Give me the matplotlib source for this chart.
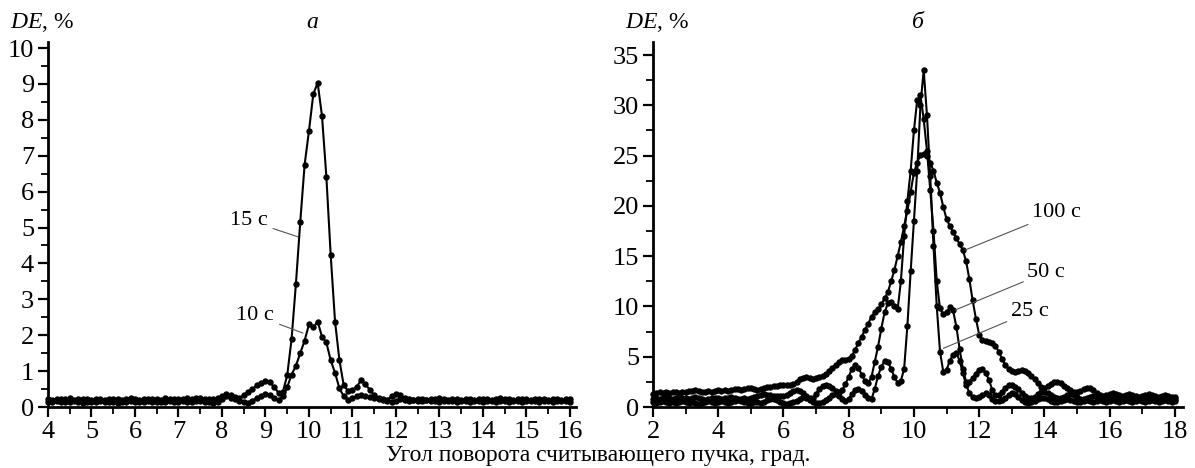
import numpy as np
import matplotlib.pyplot as plt
from matplotlib.ticker import MultipleLocator

plt.rcParams['font.family'] = ['Liberation Serif', 'DejaVu Serif']
plt.rcParams['mathtext.fontset'] = 'custom'
plt.rcParams['mathtext.it'] = 'Liberation Serif:italic'
plt.rcParams['mathtext.rm'] = 'Liberation Serif'

# panel a: angle grid 4..16 deg, step 0.1
angle_a = np.round(np.arange(4.0, 16.05, 0.1), 1)
de_15 = [
    0.22, 0.20, 0.23, 0.21, 0.22, 0.24, 0.20, 0.22, 0.21, 0.23,
    0.20, 0.22, 0.21, 0.20, 0.23, 0.21, 0.22, 0.20, 0.21, 0.25,
    0.22, 0.20, 0.21, 0.23, 0.21, 0.22, 0.20, 0.24, 0.22, 0.21,
    0.23, 0.22, 0.24, 0.21, 0.26, 0.25, 0.22, 0.21, 0.23, 0.25,
    0.30, 0.35, 0.33, 0.28, 0.25, 0.33, 0.42, 0.50, 0.60, 0.68,
    0.72, 0.70, 0.55, 0.40, 0.42, 0.88, 1.89, 3.43, 5.16, 6.75,
    7.69, 8.72, 9.03, 8.11, 6.42, 4.23, 2.38, 1.31, 0.60, 0.45,
    0.47, 0.57, 0.75, 0.63, 0.48, 0.33, 0.26, 0.22, 0.20, 0.30,
    0.37, 0.33, 0.25, 0.22, 0.20, 0.21, 0.23, 0.20, 0.22, 0.21,
    0.24, 0.22, 0.20, 0.21, 0.23, 0.20, 0.22, 0.21, 0.20, 0.22,
    0.23, 0.21, 0.20, 0.22, 0.24, 0.21, 0.22, 0.20, 0.21, 0.23,
    0.22, 0.20, 0.21, 0.23, 0.22, 0.20, 0.21, 0.22, 0.20, 0.21,
    0.22,
]
de_10 = [
    0.15, 0.13, 0.16, 0.14, 0.15, 0.13, 0.16, 0.15, 0.12, 0.14,
    0.15, 0.14, 0.16, 0.13, 0.15, 0.14, 0.12, 0.15, 0.14, 0.17,
    0.15, 0.13, 0.14, 0.16, 0.15, 0.13, 0.14, 0.15, 0.16, 0.14,
    0.15, 0.16, 0.14, 0.15, 0.18, 0.17, 0.15, 0.14, 0.12, 0.15,
    0.22, 0.30, 0.26, 0.22, 0.18, 0.15, 0.12, 0.18, 0.25, 0.32,
    0.35, 0.33, 0.25, 0.20, 0.30, 0.55, 0.90, 1.15, 1.50, 1.85,
    2.30, 2.22, 2.38, 1.96, 1.80, 1.30, 0.95, 0.52, 0.30, 0.20,
    0.25, 0.30, 0.33, 0.30, 0.28, 0.25, 0.22, 0.20, 0.18, 0.15,
    0.18, 0.22, 0.20, 0.18, 0.19, 0.17, 0.18, 0.20, 0.18, 0.17,
    0.15, 0.17, 0.16, 0.18, 0.15, 0.16, 0.17, 0.15, 0.18, 0.16,
    0.15, 0.17, 0.16, 0.15, 0.18, 0.16, 0.15, 0.17, 0.16, 0.15,
    0.17, 0.16, 0.18, 0.15, 0.16, 0.17, 0.15, 0.16, 0.18, 0.16,
    0.15,
]

# panel b: angle grid 2..18 deg, step 0.1
angle_b = np.round(np.arange(2.0, 18.05, 0.1), 1)
de_100 = [
    1.3, 1.4, 1.5, 1.4, 1.5, 1.4, 1.5, 1.5, 1.4, 1.5,
    1.5, 1.6, 1.6, 1.7, 1.6, 1.5, 1.5, 1.6, 1.5, 1.6,
    1.7, 1.6, 1.7, 1.6, 1.7, 1.8, 1.8, 1.7, 1.8, 1.9,
    1.9, 1.8, 1.7, 1.8, 1.9, 2.0, 2.0, 2.1, 2.1, 2.2,
    2.2, 2.2, 2.2, 2.3, 2.5, 2.8, 2.9, 3.0, 2.9, 2.8,
    2.9, 3.0, 3.1, 3.3, 3.6, 3.9, 4.2, 4.5, 4.7, 4.7,
    4.8, 5.1, 5.7, 6.4, 7.0, 7.7, 8.3, 9.0, 9.4, 9.7,
    10.2, 10.8, 11.4, 12.5, 13.6, 15.0, 16.4, 18.0, 19.5, 21.4,
    23.3, 24.3, 25.1, 25.2, 25.0, 24.3, 23.5, 22.3, 21.3, 19.9,
    18.7, 18.0, 17.4, 16.8, 16.2, 15.6, 14.5, 12.7, 10.6, 8.8,
    7.2, 6.7, 6.6, 6.5, 6.4, 6.1, 5.5, 4.8, 4.2, 3.8,
    3.6, 3.5, 3.6, 3.7, 3.6, 3.4, 3.1, 2.8, 2.4, 2.0,
    1.9, 2.1, 2.3, 2.5, 2.5, 2.4, 2.1, 1.9, 1.7, 1.5,
    1.5, 1.6, 1.8, 1.9, 1.9, 1.7, 1.4, 1.2, 1.1, 1.2,
    1.3, 1.4, 1.3, 1.2, 1.1, 1.2, 1.3, 1.2, 1.1, 1.0,
    1.1, 1.2, 1.3, 1.2, 1.1, 1.0, 1.1, 1.2, 1.1, 1.0,
    1.0,
]
de_50 = [
    0.8, 0.9, 0.8, 0.9, 1.0, 0.9, 0.8, 0.9, 0.8, 0.9,
    0.9, 0.8, 0.9, 1.0, 0.9, 0.8, 0.7, 0.8, 0.9, 0.9,
    0.9, 0.8, 0.9, 0.9, 1.0, 0.9, 0.8, 0.8, 0.9, 0.8,
    0.9, 1.0, 1.1, 1.2, 1.3, 1.2, 1.2, 1.1, 1.1, 1.1,
    1.1, 1.2, 1.4, 1.6, 1.7, 1.6, 1.4, 1.1, 0.9, 0.9,
    1.3, 1.8, 2.1, 2.2, 2.1, 1.9, 1.6, 1.5, 1.7, 2.3,
    3.0, 3.8, 4.2, 3.9, 3.2, 2.6, 2.4, 3.0, 4.5, 6.0,
    7.8, 9.4, 10.3, 10.4, 10.0, 9.7, 12.5, 17.0, 20.5, 23.5,
    27.5, 30.5, 31.0, 28.6, 25.5, 21.6, 17.5, 12.5, 9.8, 9.2,
    9.4, 9.9, 9.6, 8.0, 5.8, 3.8, 2.5, 2.5, 2.9, 3.3,
    3.7, 3.8, 3.4, 2.7, 1.7, 1.2, 1.2, 1.5, 1.9, 2.2,
    2.2, 2.0, 1.8, 1.4, 1.1, 0.9, 0.9, 1.0, 1.3, 1.5,
    1.5, 1.4, 1.2, 1.0, 0.9, 0.9, 1.0, 1.2, 1.3, 1.2,
    1.0, 0.8, 0.8, 0.9, 1.0, 1.1, 1.0, 0.9, 0.8, 0.9,
    1.0, 1.1, 1.0, 0.9, 0.8, 0.9, 1.0, 0.9, 0.8, 0.9,
    1.0, 0.9, 0.8, 0.9, 1.0, 0.9, 0.8, 0.9, 1.0, 0.9,
    0.8,
]
de_25 = [
    0.5, 0.4, 0.5, 0.6, 0.5, 0.4, 0.5, 0.4, 0.5, 0.6,
    0.5, 0.4, 0.5, 0.4, 0.3, 0.4, 0.5, 0.6, 0.5, 0.4,
    0.5, 0.6, 0.5, 0.4, 0.5, 0.6, 0.7, 0.6, 0.5, 0.4,
    0.4, 0.5, 0.5, 0.4, 0.5, 0.7, 0.8, 0.8, 0.7, 0.5,
    0.4, 0.3, 0.4, 0.5, 0.6, 0.8, 1.0, 0.9, 0.7, 0.5,
    0.4, 0.4, 0.5, 0.7, 0.9, 1.2, 1.3, 1.1, 0.8, 0.6,
    0.8, 1.3, 1.7, 1.8, 1.6, 1.2, 0.9, 0.8, 1.8, 3.1,
    4.0, 4.6, 4.5, 3.8, 3.0, 2.4, 2.6, 3.8, 8.1, 13.5,
    18.5, 23.5, 30.0, 33.5, 29.0, 23.0, 16.0, 10.0, 5.5, 3.5,
    3.7, 4.6, 5.2, 5.4, 4.6, 3.4, 2.2, 1.4, 1.0, 0.9,
    1.0, 1.2, 1.4, 1.2, 0.8, 0.6, 0.6, 0.7, 0.9, 1.2,
    1.4, 1.3, 1.0, 0.7, 0.5, 0.4, 0.5, 0.6, 0.8, 0.9,
    0.9, 0.8, 0.6, 0.5, 0.5, 0.6, 0.7, 0.8, 0.7, 0.6,
    0.5, 0.5, 0.6, 0.7, 0.6, 0.5, 0.6, 0.7, 0.6, 0.5,
    0.6, 0.7, 0.6, 0.5, 0.6, 0.7, 0.6, 0.5, 0.6, 0.7,
    0.6, 0.5, 0.6, 0.7, 0.6, 0.5, 0.6, 0.7, 0.6, 0.5,
    0.6,
]


def style_axes(ax):
    for s in ['top', 'right']:
        ax.spines[s].set_visible(False)
    for s in ['left', 'bottom']:
        ax.spines[s].set_linewidth(2.0)
    ax.tick_params(which='major', direction='out', length=7, width=1.6,
                   labelsize=19, pad=3)
    ax.tick_params(which='minor', direction='out', length=5, width=1.3)


def draw(ax, x, y):
    ax.plot(x, y, color='black', lw=1.5, marker='o', ms=4.6,
            markeredgewidth=0, clip_on=False)


fig = plt.figure(figsize=(11.95, 4.68), dpi=100)

# ---- panel a
ax1 = fig.add_axes([48 / 1195, 1 - 407 / 468, (576 - 48) / 1195, (407 - 42) / 468])
draw(ax1, angle_a, de_15)
draw(ax1, angle_a, de_10)
ax1.set_xlim(4, 16.14)
ax1.set_ylim(0, 10.17)
ax1.set_xticks(range(4, 17))
ax1.set_yticks(range(0, 11))
ax1.xaxis.set_minor_locator(MultipleLocator(0.5))
ax1.yaxis.set_minor_locator(MultipleLocator(0.5))
style_axes(ax1)
ax1.annotate('15 с', xy=(9.75, 4.74), xytext=(9.05, 5.2), fontsize=16,
             ha='right', va='center',
             arrowprops=dict(arrowstyle='-', color='#555555', lw=0.8,
                             shrinkA=2, shrinkB=0))
ax1.annotate('10 с', xy=(9.86, 2.06), xytext=(9.2, 2.56), fontsize=16,
             ha='right', va='center',
             arrowprops=dict(arrowstyle='-', color='#555555', lw=0.8,
                             shrinkA=2, shrinkB=0))
fig.text(10 / 1195, 1 - 22 / 468, r'$DE$, %', fontsize=17, va='center', ha='left')
fig.text(312 / 1195, 1 - 22 / 468, 'а', fontsize=17, style='italic',
         va='center', ha='center')

# ---- panel b
ax2 = fig.add_axes([653 / 1195, 1 - 407 / 468, (1183 - 653) / 1195, (407 - 42) / 468])
draw(ax2, angle_b, de_100)
draw(ax2, angle_b, de_50)
draw(ax2, angle_b, de_25)
ax2.set_xlim(2, 18.25)
ax2.set_ylim(0, 36.3)
ax2.set_xticks(range(2, 19, 2))
ax2.set_yticks(range(0, 36, 5))
ax2.xaxis.set_minor_locator(MultipleLocator(1))
ax2.yaxis.set_minor_locator(MultipleLocator(2.5))
style_axes(ax2)
for lbl, tip, txt in [('100 с', (11.56, 15.6), (13.62, 19.3)),
                      ('50 с', (11.26, 9.64), (13.48, 13.4)),
                      ('25 с', (10.9, 5.83), (12.97, 9.45))]:
    ax2.annotate(lbl, xy=tip, xytext=txt, fontsize=16, ha='left', va='center',
                 arrowprops=dict(arrowstyle='-', color='#555555', lw=0.8,
                                 shrinkA=1, shrinkB=0))
fig.text(625 / 1195, 1 - 22 / 468, r'$DE$, %', fontsize=17, va='center', ha='left')
fig.text(918 / 1195, 1 - 22 / 468, 'б', fontsize=17, style='italic',
         va='center', ha='center')

fig.text(598 / 1195, 1 - 455 / 468, 'Угол поворота считывающего пучка, град.',
         fontsize=17, ha='center', va='center')

plt.savefig('out.png', dpi=100)
